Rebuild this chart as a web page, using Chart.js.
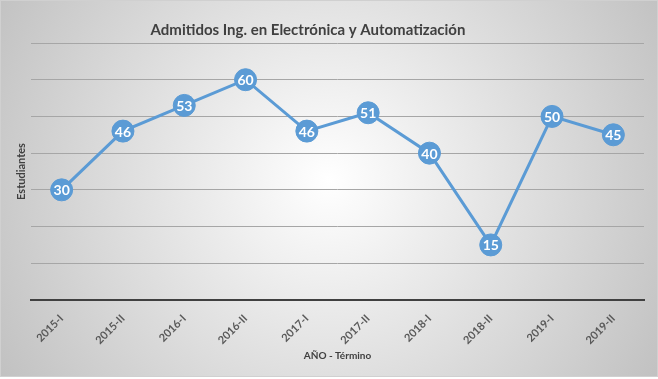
<!DOCTYPE html>
<html>
<head>
<meta charset="utf-8">
<script src="https://cdn.jsdelivr.net/npm/chart.js@4"></script>
<style>
  html, body { margin: 0; padding: 0; background: #fff; }
  #wrap { position: relative; width: 658px; height: 379px; }
</style>
</head>
<body>
<div id="wrap"><canvas id="grafico"></canvas></div>
<script>
// datos del gráfico
const terminos = ['2015-I', '2015-II', '2016-I', '2016-II', '2017-I', '2017-II', '2018-I', '2018-II', '2019-I', '2019-II'];
const admitidos = [30, 46, 53, 60, 46, 51, 40, 15, 50, 45];
const titulo = 'Admitidos Ing. en Electrónica y Automatización';
const tituloY = 'Estudiantes';
const tituloX = 'AÑO - Término';

const fuente = "Lato, 'Open Sans', sans-serif";
const azul = '#5B9BD5';

// fondo degradado y borde exterior
const fondo = {
  id: 'fondo',
  beforeDraw(chart) {
    const { ctx, width } = chart;
    const h = 377;
    ctx.save();
    const g = ctx.createRadialGradient(329, 180, 0, 329, 180, 390);
    g.addColorStop(0, '#ffffff');
    g.addColorStop(1, '#c0c0c0');
    ctx.fillStyle = g;
    ctx.fillRect(0, 0, width, h);
    ctx.strokeStyle = '#d0d0d0';
    ctx.lineWidth = 1;
    ctx.strokeRect(0.5, 0.5, width - 1, h - 1);
    ctx.restore();
  }
};

// título desplazado como en el original
const tituloPlugin = {
  id: 'tituloPlugin',
  afterDraw(chart) {
    const { ctx } = chart;
    ctx.save();
    ctx.font = 'bold 15px ' + fuente;
    ctx.fillStyle = '#404040';
    ctx.textAlign = 'center';
    ctx.textBaseline = 'middle';
    ctx.fillText(titulo, 308, 30);
    ctx.restore();
  }
};

// etiquetas de datos dentro de los marcadores
const etiquetas = {
  id: 'etiquetas',
  afterDatasetsDraw(chart) {
    const { ctx } = chart;
    const meta = chart.getDatasetMeta(0);
    ctx.save();
    ctx.font = 'bold 14px ' + fuente;
    ctx.fillStyle = '#ffffff';
    ctx.textAlign = 'center';
    ctx.textBaseline = 'middle';
    meta.data.forEach((p, i) => {
      ctx.fillText(String(admitidos[i]), p.x, p.y + 1);
    });
    ctx.restore();
  }
};

new Chart(document.getElementById('grafico'), {
  type: 'line',
  data: {
    labels: terminos,
    datasets: [{
      label: 'Admitidos',
      data: admitidos,
      borderColor: azul,
      borderWidth: 3,
      backgroundColor: azul,
      pointRadius: 11,
      pointHoverRadius: 11,
      pointBackgroundColor: azul,
      pointBorderColor: azul,
      pointBorderWidth: 1,
      tension: 0,
    }],
  },
  options: {
    responsive: true,
    maintainAspectRatio: false,
    animation: false,
    layout: { padding: { top: 43, right: 14, left: 11, bottom: 0 } },
    plugins: {
      legend: { display: false },
      tooltip: { enabled: false },
    },
    scales: {
      x: {
        offset: true,
        grid: { display: false },
        border: { display: true, color: '#404040', width: 2 },
        ticks: {
          minRotation: 45,
          maxRotation: 45,
          padding: 4,
          color: '#595959',
          font: { family: fuente, size: 11, weight: 'bold' },
        },
        title: {
          display: true,
          text: tituloX,
          color: '#404040',
          font: { family: fuente, size: 10, weight: 'bold' },
          padding: { top: 0, bottom: 17 },
        },
        afterFit(scale) { scale.height = 79; },
      },
      y: {
        min: 0,
        max: 70,
        ticks: { display: false, stepSize: 10 },
        grid: { color: '#a6a6a6', lineWidth: 1, drawTicks: false },
        border: { display: false },
        title: {
          display: true,
          text: tituloY,
          color: '#404040',
          font: { family: fuente, size: 11, weight: 'bold' },
          padding: 4,
        },
        afterFit(scale) { scale.width = 20; },
      },
    },
  },
  plugins: [fondo, tituloPlugin, etiquetas],
});
</script>
</body>
</html>
